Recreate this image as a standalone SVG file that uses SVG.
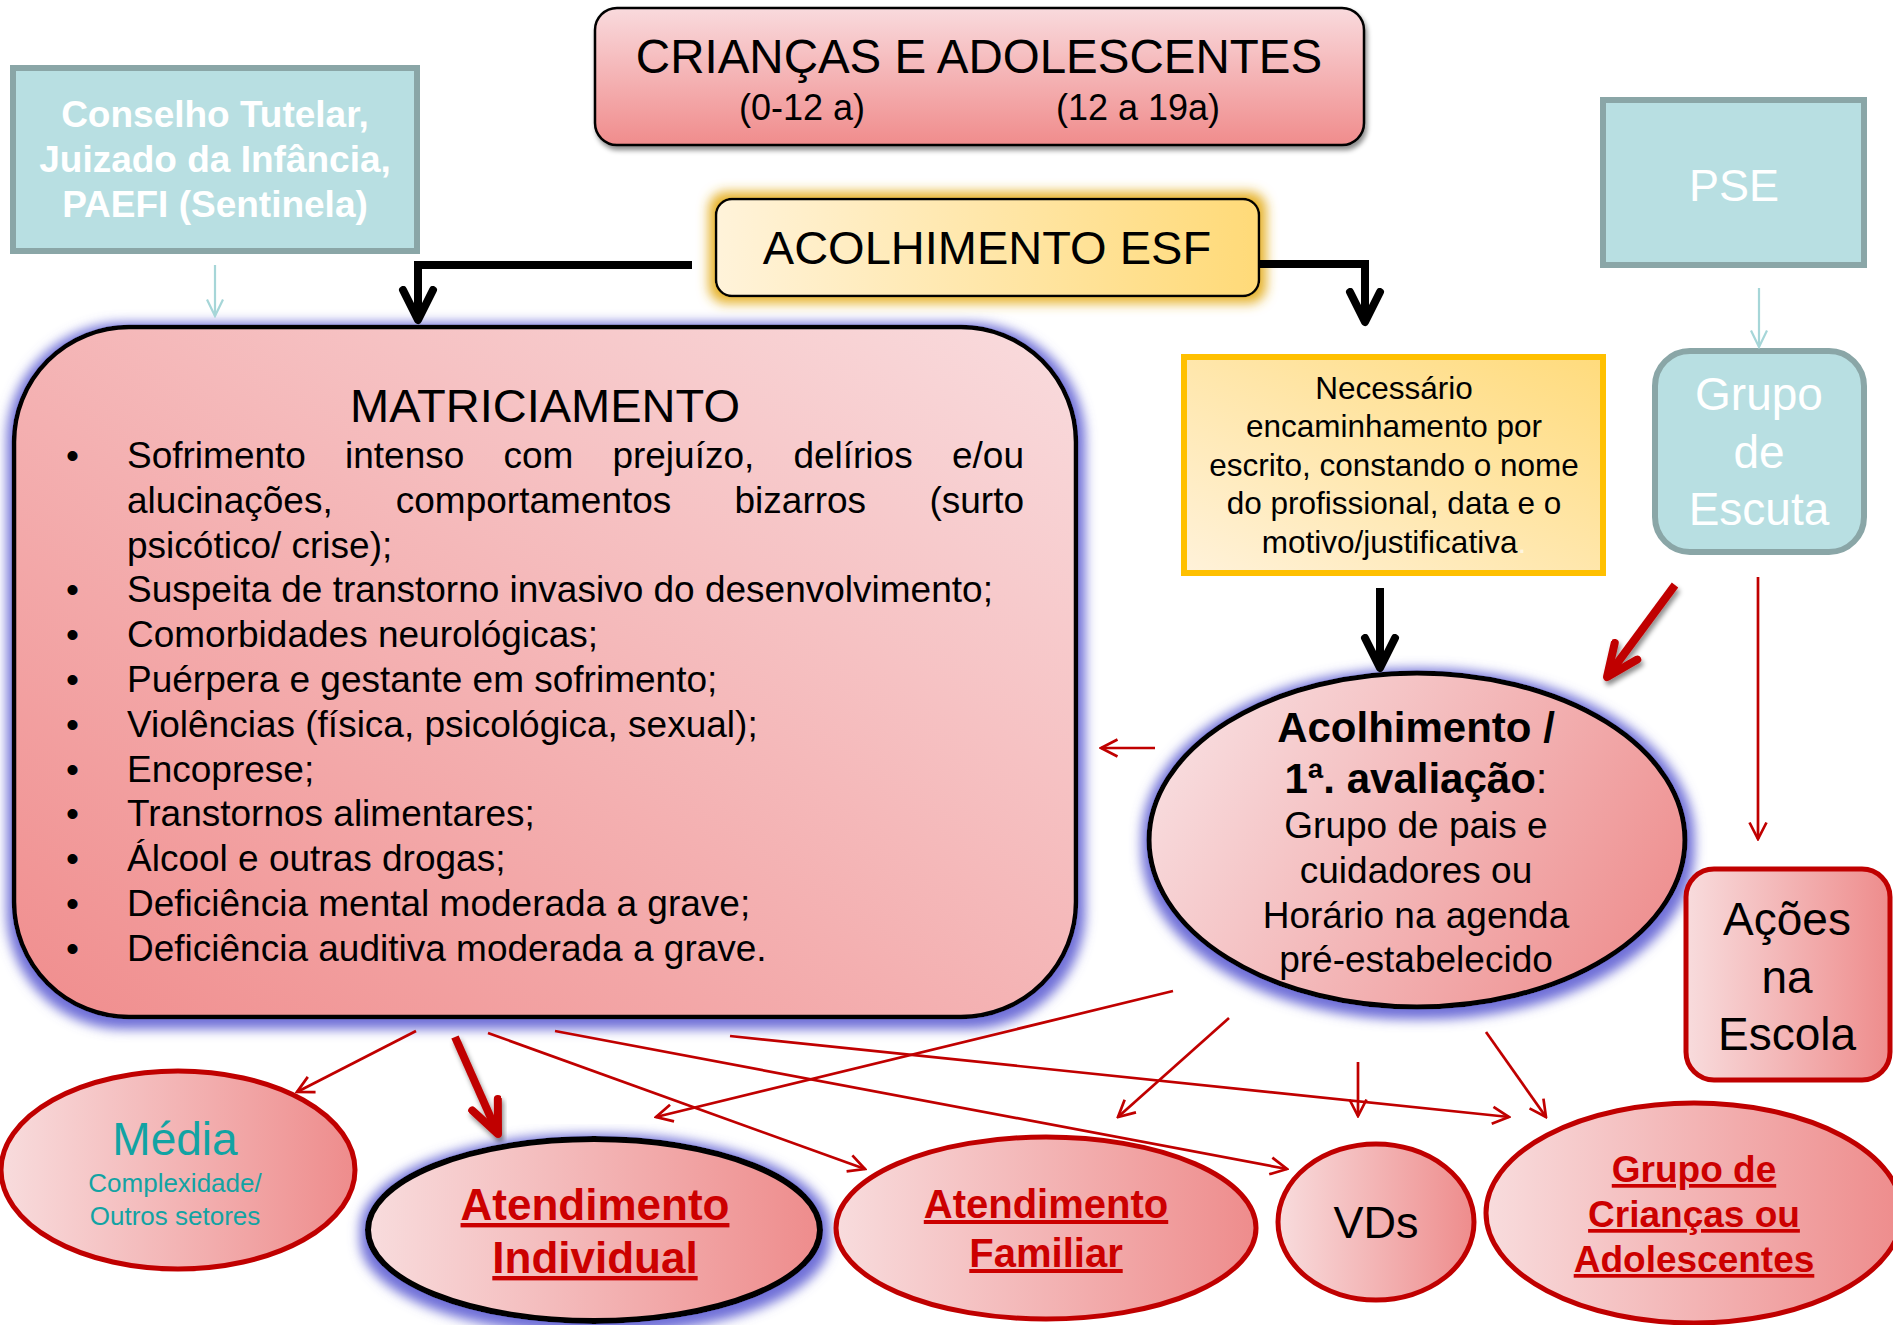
<svg xmlns="http://www.w3.org/2000/svg" width="1893" height="1325" viewBox="0 0 1893 1325">
<defs>
<style>
text{font-family:"Liberation Sans",Arial,sans-serif;}
.c{text-anchor:middle;}
.e{text-anchor:end;}
.b{font-weight:bold;}
.w{fill:#ffffff;}
.k{fill:#000000;}
.r{fill:#cc0000;font-weight:bold;text-decoration:underline;}
.teal{fill:#b8dfe2;stroke:#8aa6a7;stroke-width:6;}
.thin{fill:none;stroke:#c00000;stroke-width:2.7;marker-end:url(#mRed);}
.thick{fill:none;stroke:#c00000;stroke-width:8;marker-end:url(#mRedBig);filter:url(#shadow);}
.blk{fill:none;stroke:#000;stroke-width:8;marker-end:url(#mBlack);}
.tl{fill:none;stroke:#a6d6d8;stroke-width:2.2;marker-end:url(#mTeal);}
.li{font-size:37px;}
</style>
<linearGradient id="gTop" x1="0" y1="0" x2="0" y2="1">
<stop offset="0" stop-color="#f9dadd"/><stop offset="1" stop-color="#f08c8c"/>
</linearGradient>
<linearGradient id="gYel" x1="0" y1="0" x2="1" y2="0">
<stop offset="0" stop-color="#fff3da"/><stop offset="1" stop-color="#ffda78"/>
</linearGradient>
<linearGradient id="gNec" x1="0" y1="1" x2="1" y2="0">
<stop offset="0" stop-color="#fff2da"/><stop offset="1" stop-color="#ffdb7c"/>
</linearGradient>
<linearGradient id="gMat" x1="1" y1="0" x2="0" y2="1">
<stop offset="0" stop-color="#f9dcde"/><stop offset="1" stop-color="#f08d8d"/>
</linearGradient>
<linearGradient id="gEll" x1="0" y1="0.3" x2="1" y2="0.7">
<stop offset="0" stop-color="#f8dddf"/><stop offset="1" stop-color="#ee8f8f"/>
</linearGradient>
<linearGradient id="gH" x1="0" y1="0" x2="1" y2="0">
<stop offset="0" stop-color="#f8dcdd"/><stop offset="1" stop-color="#ee8c8c"/>
</linearGradient>
<filter id="glowB" x="-10%" y="-10%" width="120%" height="125%">
<feMorphology in="SourceAlpha" operator="dilate" radius="6" result="d"/>
<feGaussianBlur in="d" stdDeviation="6" result="bl0"/>
<feOffset in="bl0" dx="1" dy="4" result="bl"/>
<feFlood flood-color="#7070d8" flood-opacity="1" result="fl"/>
<feComposite in="fl" in2="bl" operator="in" result="g"/>
<feMerge><feMergeNode in="g"/><feMergeNode in="SourceGraphic"/></feMerge>
</filter>
<filter id="glowY" x="-10%" y="-30%" width="120%" height="160%">
<feMorphology in="SourceAlpha" operator="dilate" radius="6" result="d"/>
<feGaussianBlur in="d" stdDeviation="6" result="bl"/>
<feFlood flood-color="#e6b22a" flood-opacity="1" result="fl"/>
<feComposite in="fl" in2="bl" operator="in" result="g"/>
<feMerge><feMergeNode in="g"/><feMergeNode in="SourceGraphic"/></feMerge>
</filter>
<filter id="shadow" x="-20%" y="-20%" width="140%" height="150%">
<feGaussianBlur in="SourceAlpha" stdDeviation="2.5" result="b"/>
<feOffset in="b" dx="2" dy="4" result="o"/>
<feFlood flood-color="#000" flood-opacity="0.45" result="f"/>
<feComposite in="f" in2="o" operator="in" result="s"/>
<feMerge><feMergeNode in="s"/><feMergeNode in="SourceGraphic"/></feMerge>
</filter>
<marker id="mRed" viewBox="0 0 20 20" refX="18" refY="10" markerWidth="20" markerHeight="20" markerUnits="userSpaceOnUse" orient="auto">
<path d="M1.5,1.5 L18,10 L1.5,18.5" fill="none" stroke="#c00000" stroke-width="2.7"/>
</marker>
<marker id="mRedBig" viewBox="0 0 44 36" refX="38" refY="18" markerWidth="44" markerHeight="36" markerUnits="userSpaceOnUse" orient="auto">
<path d="M6,4 L38,18 L6,32" fill="none" stroke="#c00000" stroke-width="8" stroke-linecap="round" stroke-linejoin="round"/>
</marker>
<marker id="mBlack" viewBox="0 0 40 40" refX="34" refY="20" markerWidth="40" markerHeight="40" markerUnits="userSpaceOnUse" orient="auto">
<path d="M4,5 L34,20 L4,35" fill="none" stroke="#000" stroke-width="8" stroke-linecap="round" stroke-linejoin="round"/>
</marker>
<marker id="mTeal" viewBox="0 0 20 20" refX="18" refY="10" markerWidth="20" markerHeight="20" markerUnits="userSpaceOnUse" orient="auto">
<path d="M1.5,2 L18,10 L1.5,18" fill="none" stroke="#a6d6d8" stroke-width="2.2"/>
</marker>
</defs>
<rect width="1893" height="1325" fill="#ffffff"/>

<g id="conselho">
<rect class="teal" x="13" y="68" width="404" height="183"/>
<text class="c b w" x="215" y="127" font-size="37">Conselho Tutelar,</text>
<text class="c b w" x="215" y="172" font-size="37">Juizado da Infância,</text>
<text class="c b w" x="215" y="217" font-size="37">PAEFI (Sentinela)</text>
</g>

<g id="criancas">
<rect x="595" y="8" width="769" height="137" rx="22" fill="url(#gTop)" stroke="#000" stroke-width="2.5" filter="url(#shadow)"/>
<text class="c k" x="979" y="73" font-size="47.5">CRIANÇAS E ADOLESCENTES</text>
<text class="c k" x="802" y="120" font-size="36">(0-12 a)</text>
<text class="c k" x="1138" y="120" font-size="36">(12 a 19a)</text>
</g>

<g id="pse">
<rect class="teal" x="1603" y="100" width="261" height="165"/>
<text class="c w" x="1734" y="201" font-size="45">PSE</text>
</g>

<g id="matriciamento">
<rect x="14" y="327" width="1062" height="690" rx="115" ry="115" fill="url(#gMat)" stroke="#000" stroke-width="4.5" filter="url(#glowB)"/>
<text class="c k" x="545" y="422" font-size="47">MATRICIAMENTO</text>
<g class="li k">
<text x="66" y="468">•</text>
<text x="127" y="468">Sofrimento</text>
<text x="345" y="468">intenso</text>
<text x="503.4" y="468">com</text>
<text x="612.4" y="468">prejuízo,</text>
<text x="793.4" y="468">delírios</text>
<text class="e" x="1024" y="468">e/ou</text>
<text x="127" y="512.8">alucinações,</text>
<text x="395.8" y="512.8">comportamentos</text>
<text x="734.5" y="512.8">bizarros</text>
<text class="e" x="1024" y="512.8">(surto</text>
<text x="127" y="557.6">psicótico/ crise);</text>
<text x="66" y="602.4">•</text>
<text x="127" y="602.4">Suspeita de transtorno invasivo do desenvolvimento;</text>
<text x="66" y="647.2">•</text>
<text x="127" y="647.2">Comorbidades neurológicas;</text>
<text x="66" y="692">•</text>
<text x="127" y="692">Puérpera e gestante em sofrimento;</text>
<text x="66" y="736.8">•</text>
<text x="127" y="736.8">Violências (física, psicológica, sexual);</text>
<text x="66" y="781.6">•</text>
<text x="127" y="781.6">Encoprese;</text>
<text x="66" y="826.4">•</text>
<text x="127" y="826.4">Transtornos alimentares;</text>
<text x="66" y="871.2">•</text>
<text x="127" y="871.2">Álcool e outras drogas;</text>
<text x="66" y="916">•</text>
<text x="127" y="916">Deficiência mental moderada a grave;</text>
<text x="66" y="960.8">•</text>
<text x="127" y="960.8">Deficiência auditiva moderada a grave.</text>
</g>
</g>

<g id="acolhimento-esf">
<rect x="716" y="199" width="543" height="97" rx="16" fill="url(#gYel)" stroke="#000" stroke-width="2.5" filter="url(#glowY)"/>
<text class="c k" x="987" y="264" font-size="47">ACOLHIMENTO ESF</text>
</g>

<g id="necessario">
<rect x="1184" y="357" width="419" height="216" fill="url(#gNec)" stroke="#ffc000" stroke-width="6"/>
<text class="c k" x="1394" y="399" font-size="31.5">Necessário</text>
<text class="c k" x="1394" y="437" font-size="31.5">encaminhamento por</text>
<text class="c k" x="1394" y="476" font-size="31.5">escrito, constando o nome</text>
<text class="c k" x="1394" y="514" font-size="31.5">do profissional, data e o</text>
<text class="c k" x="1394" y="553" font-size="31.5">motivo/justificativa<tspan fill="#fff6e0">.</tspan></text>
</g>

<g id="grupo-escuta">
<rect class="teal" x="1655" y="351" width="209" height="201" rx="35"/>
<text class="c w" x="1759" y="410" font-size="46">Grupo</text>
<text class="c w" x="1759" y="468" font-size="46">de</text>
<text class="c w" x="1759" y="525" font-size="46">Escuta</text>
</g>

<g id="acolhimento-avaliacao">
<ellipse cx="1417" cy="840" rx="268" ry="167" fill="url(#gEll)" stroke="#000" stroke-width="5" filter="url(#glowB)"/>
<text class="c b k" x="1416" y="742" font-size="42">Acolhimento /</text>
<text class="c k" x="1416" y="793" font-size="42"><tspan font-weight="bold">1ª. avaliação</tspan>:</text>
<text class="c k" x="1416" y="838" font-size="37">Grupo de pais e</text>
<text class="c k" x="1416" y="883" font-size="37">cuidadores ou</text>
<text class="c k" x="1416" y="928" font-size="37">Horário na agenda</text>
<text class="c k" x="1416" y="972" font-size="37">pré-estabelecido</text>
</g>

<g id="acoes-escola">
<rect x="1686" y="869" width="204" height="211" rx="28" fill="url(#gH)" stroke="#c00000" stroke-width="5"/>
<text class="c k" x="1787" y="935" font-size="46">Ações</text>
<text class="c k" x="1787" y="993" font-size="46">na</text>
<text class="c k" x="1787" y="1050" font-size="46">Escola</text>
</g>

<g id="media">
<ellipse cx="178" cy="1170" rx="177" ry="99" fill="url(#gH)" stroke="#c00000" stroke-width="5"/>
<text class="c" x="175" y="1155" font-size="46" fill="#12a3a3">Média</text>
<text class="c" x="175" y="1192" font-size="26" fill="#12a3a3">Complexidade/</text>
<text class="c" x="175" y="1225" font-size="26" fill="#12a3a3">Outros setores</text>
</g>

<g id="atendimento-individual">
<ellipse cx="594" cy="1230" rx="226" ry="91" fill="url(#gH)" stroke="#000" stroke-width="6" filter="url(#glowB)"/>
<text class="c r" x="595" y="1220" font-size="44">Atendimento</text>
<text class="c r" x="595" y="1273" font-size="44">Individual</text>
</g>

<g id="atendimento-familiar">
<ellipse cx="1046" cy="1228" rx="210" ry="91" fill="url(#gH)" stroke="#c00000" stroke-width="5"/>
<text class="c r" x="1046" y="1218" font-size="40">Atendimento</text>
<text class="c r" x="1046" y="1267" font-size="40">Familiar</text>
</g>

<g id="vds">
<ellipse cx="1376" cy="1222" rx="98" ry="78" fill="url(#gH)" stroke="#c00000" stroke-width="5"/>
<text class="c k" x="1376" y="1238" font-size="45">VDs</text>
</g>

<g id="grupo-criancas">
<ellipse cx="1694" cy="1213" rx="208" ry="110" fill="url(#gH)" stroke="#c00000" stroke-width="5"/>
<text class="c r" x="1694" y="1182" font-size="37">Grupo de</text>
<text class="c r" x="1694" y="1227" font-size="37">Crianças ou</text>
<text class="c r" x="1694" y="1272" font-size="37">Adolescentes</text>
</g>

<g id="connectors">
<path class="thick" d="M979,146 V199"/>
<path class="blk" d="M692,265 H418 V320"/>
<path class="blk" d="M1260,264 H1365 V322"/>
<path class="blk" d="M1380,588 V668"/>
<path class="tl" d="M215,265 V316"/>
<path class="tl" d="M1759,288 V347"/>
<path class="thick" d="M1675,585 L1607,677"/>
<path class="thin" d="M1758,577 V839"/>
<path class="thin" d="M1155,748 H1101"/>
<path class="thin" d="M416,1031 L297,1092"/>
<path class="thick" d="M455,1037 L498,1134"/>
<path class="thin" d="M488,1033 L865,1169"/>
<path class="thin" d="M555,1031 L1287,1169"/>
<path class="thin" d="M730,1036 L1509,1117"/>
<path class="thin" d="M1173,991 L656,1117"/>
<path class="thin" d="M1229,1018 L1118,1117"/>
<path class="thin" d="M1358,1062 V1116"/>
<path class="thin" d="M1486,1032 L1546,1117"/>
</g>
</svg>
